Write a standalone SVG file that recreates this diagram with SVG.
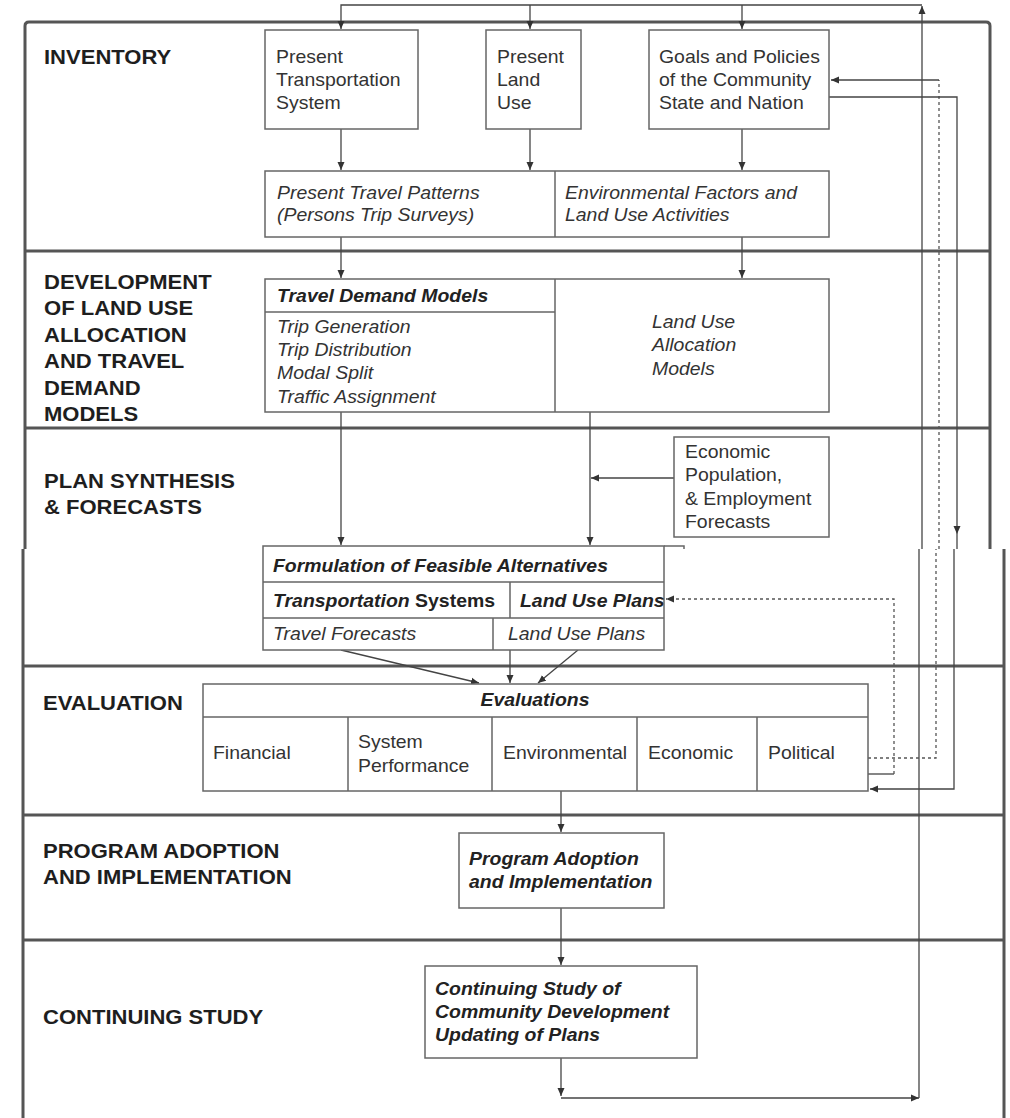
<svg xmlns="http://www.w3.org/2000/svg" width="1010" height="1118" viewBox="0 0 1010 1118">
<defs>
<style>
.frame{fill:none;stroke:#555;stroke-width:3}
.box{fill:#fff;stroke:#666;stroke-width:1.5}
.div{fill:none;stroke:#666;stroke-width:1.5}
.con{fill:none;stroke:#444;stroke-width:1.3}
.dot{fill:none;stroke:#555;stroke-width:1.3;stroke-dasharray:3 3}
.lbl{font-family:"Liberation Sans",Arial,sans-serif;font-weight:bold;font-size:20.5px;fill:#1e1e1e}
.t{font-family:"Liberation Sans",Arial,sans-serif;font-size:18px;fill:#333}
.ti{font-family:"Liberation Sans",Arial,sans-serif;font-size:18px;font-style:italic;fill:#333}
.tb{font-family:"Liberation Sans",Arial,sans-serif;font-size:18px;font-style:italic;font-weight:bold;fill:#222}
</style>
<marker id="ah" viewBox="0 0 8 8" refX="8" refY="4" markerWidth="8" markerHeight="8" markerUnits="userSpaceOnUse" orient="auto">
<path d="M0,0.5 L8,4 L0,7.5 z" fill="#333"/>
</marker>
</defs>
<rect width="1010" height="1118" fill="#fff"/>

<g id="frame">
<path class="frame" d="M25,549 V26 Q25,22 29,22 H986 Q990,22 990,26 V549"/>
<path class="frame" d="M25,251 H990 M25,428 H990"/>
<path class="frame" d="M23,549 V1118 M1004,549 V1118 M23,666 H1004 M23,815 H1004 M23,940 H1004"/>
</g>

<g id="section-labels">
<text class="lbl" transform="translate(44,64) scale(1.075,1)">INVENTORY</text>
<text class="lbl" transform="translate(44,289) scale(1.075,1)"><tspan x="0" y="0">DEVELOPMENT</tspan><tspan x="0" y="26.4">OF LAND USE</tspan><tspan x="0" y="52.8">ALLOCATION</tspan><tspan x="0" y="79.2">AND TRAVEL</tspan><tspan x="0" y="105.6">DEMAND</tspan><tspan x="0" y="132">MODELS</tspan></text>
<text class="lbl" transform="translate(44,488) scale(1.075,1)"><tspan x="0" y="0">PLAN SYNTHESIS</tspan><tspan x="0" y="26">&amp; FORECASTS</tspan></text>
<text class="lbl" transform="translate(43,710) scale(1.075,1)">EVALUATION</text>
<text class="lbl" transform="translate(43,858) scale(1.075,1)"><tspan x="0" y="0">PROGRAM ADOPTION</tspan><tspan x="0" y="26">AND IMPLEMENTATION</tspan></text>
<text class="lbl" transform="translate(43,1024) scale(1.075,1)">CONTINUING STUDY</text>
</g>

<g id="connectors">
<path class="con" d="M922,549 V6" marker-end="url(#ah)"/>
<path class="con" d="M922,5 H341 V29" marker-end="url(#ah)"/>
<path class="con" d="M530,5 V29" marker-end="url(#ah)"/>
<path class="con" d="M742,5 V29" marker-end="url(#ah)"/>
<path class="con" d="M341,129 V170" marker-end="url(#ah)"/>
<path class="con" d="M530,129 V170" marker-end="url(#ah)"/>
<path class="con" d="M742,129 V170" marker-end="url(#ah)"/>
<path class="con" d="M341,237 V278" marker-end="url(#ah)"/>
<path class="con" d="M742,237 V278" marker-end="url(#ah)"/>
<path class="con" d="M341,412 V545" marker-end="url(#ah)"/>
<path class="con" d="M590,412 V545" marker-end="url(#ah)"/>
<path class="con" d="M674,478 H591" marker-end="url(#ah)"/>
<path class="con" d="M341,650 L479,683" marker-end="url(#ah)"/>
<path class="con" d="M510,650 V683" marker-end="url(#ah)"/>
<path class="con" d="M578,650 L538,683" marker-end="url(#ah)"/>
<path class="con" d="M561,791 V832" marker-end="url(#ah)"/>
<path class="con" d="M561,908 V965" marker-end="url(#ah)"/>
<path class="con" d="M561,1058 V1096" marker-end="url(#ah)"/>
<path class="con" d="M561,1098 H919" marker-end="url(#ah)"/>
<path class="con" d="M919,1098 V549"/>
<path class="dot" d="M939,549 V80"/>
<path class="con" d="M939,80 H831" marker-end="url(#ah)"/>
<path class="con" d="M829,97 H957 V534" marker-end="url(#ah)"/>
<path class="con" d="M957,534 V549"/>
<path class="con" d="M954,549 V789 H870" marker-end="url(#ah)"/>
<path class="dot" d="M868,758 H936 V549"/>
<path class="con" d="M868,774 H894"/>
<path class="dot" d="M894,774 V599 H666" marker-end="url(#ah)"/>
</g>

<g id="present-transportation">
<rect class="box" x="265" y="30" width="153" height="99"/>
<text class="t" transform="translate(276,63) scale(1.08,1)"><tspan x="0" y="0">Present</tspan><tspan x="0" y="23">Transportation</tspan><tspan x="0" y="46">System</tspan></text>
</g>
<g id="present-land-use">
<rect class="box" x="486" y="30" width="95" height="99"/>
<text class="t" transform="translate(497,63) scale(1.08,1)"><tspan x="0" y="0">Present</tspan><tspan x="0" y="23">Land</tspan><tspan x="0" y="46">Use</tspan></text>
</g>
<g id="goals-policies">
<rect class="box" x="649" y="30" width="180" height="99"/>
<text class="t" transform="translate(659,63) scale(1.08,1)"><tspan x="0" y="0">Goals and Policies</tspan><tspan x="0" y="23">of the Community</tspan><tspan x="0" y="46">State and Nation</tspan></text>
</g>
<g id="travel-patterns-environment">
<rect class="box" x="265" y="171" width="564" height="66"/>
<path class="div" d="M555,171 V237"/>
<text class="ti" transform="translate(277,199) scale(1.08,1)"><tspan x="0" y="0">Present Travel Patterns</tspan><tspan x="0" y="22">(Persons Trip Surveys)</tspan></text>
<text class="ti" transform="translate(565,199) scale(1.08,1)"><tspan x="0" y="0">Environmental Factors and</tspan><tspan x="0" y="22">Land Use Activities</tspan></text>
</g>
<g id="demand-models">
<rect class="box" x="265" y="279" width="564" height="133"/>
<path class="div" d="M555,279 V412 M265,312 H555"/>
<text class="tb" transform="translate(277,302) scale(1.08,1)">Travel Demand Models</text>
<text class="ti" transform="translate(277,333) scale(1.08,1)"><tspan x="0" y="0">Trip Generation</tspan><tspan x="0" y="23">Trip Distribution</tspan><tspan x="0" y="46">Modal Split</tspan><tspan x="0" y="70">Traffic Assignment</tspan></text>
<text class="ti" transform="translate(652,328) scale(1.08,1)"><tspan x="0" y="0">Land Use</tspan><tspan x="0" y="23.5">Allocation</tspan><tspan x="0" y="47">Models</tspan></text>
</g>
<g id="economic-forecasts">
<rect class="box" x="674" y="437" width="155" height="100"/>
<text class="t" transform="translate(685,458) scale(1.08,1)"><tspan x="0" y="0">Economic</tspan><tspan x="0" y="23.5">Population,</tspan><tspan x="0" y="47">&amp; Employment</tspan><tspan x="0" y="70">Forecasts</tspan></text>
</g>
<g id="feasible-alternatives">
<rect class="box" x="263" y="546" width="401" height="104"/>
<path class="div" d="M664,546 H684 V549 M263,582 H664 M263,618 H664 M510,582 V618 M493,618 V650"/>
<text class="tb" transform="translate(273,572) scale(1.08,1)">Formulation of Feasible Alternatives</text>
<text class="tb" transform="translate(273,607) scale(1.08,1)">Transportation <tspan font-style="normal">Systems</tspan></text>
<text class="tb" transform="translate(520,607) scale(1.08,1)">Land Use Plans</text>
<text class="ti" transform="translate(273,640) scale(1.08,1)">Travel Forecasts</text>
<text class="ti" transform="translate(508,640) scale(1.08,1)">Land Use Plans</text>
</g>
<g id="evaluations">
<rect class="box" x="203" y="684" width="665" height="107"/>
<path class="div" d="M203,717 H868 M348,717 V791 M492,717 V791 M637,717 V791 M757,717 V791"/>
<text class="tb" text-anchor="middle" transform="translate(535,706) scale(1.08,1)">Evaluations</text>
<text class="t" transform="translate(213,759) scale(1.08,1)">Financial</text>
<text class="t" transform="translate(358,748) scale(1.08,1)"><tspan x="0" y="0">System</tspan><tspan x="0" y="24">Performance</tspan></text>
<text class="t" transform="translate(503,759) scale(1.08,1)">Environmental</text>
<text class="t" transform="translate(648,759) scale(1.08,1)">Economic</text>
<text class="t" transform="translate(768,759) scale(1.08,1)">Political</text>
</g>
<g id="program-adoption">
<rect class="box" x="459" y="833" width="205" height="75"/>
<text class="tb" transform="translate(469,865) scale(1.08,1)"><tspan x="0" y="0">Program Adoption</tspan><tspan x="0" y="23">and Implementation</tspan></text>
</g>
<g id="continuing-study">
<rect class="box" x="425" y="966" width="272" height="92"/>
<text class="tb" transform="translate(435,995) scale(1.08,1)"><tspan x="0" y="0">Continuing Study of</tspan><tspan x="0" y="23">Community Development</tspan><tspan x="0" y="46">Updating of Plans</tspan></text>
</g>
</svg>
